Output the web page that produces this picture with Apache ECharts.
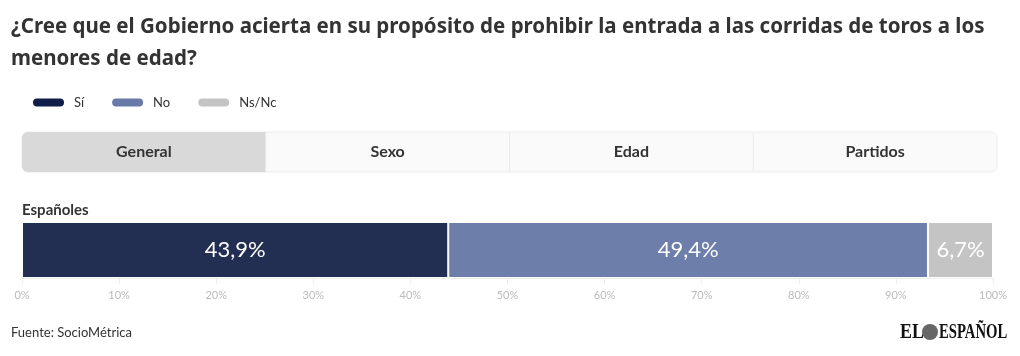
<!DOCTYPE html>
<html>
<head>
<meta charset="utf-8">
<script src="https://cdn.jsdelivr.net/npm/echarts@6/dist/echarts.min.js"></script>
<style>
  html, body { margin: 0; padding: 0; background: #fff; }
  #chart { width: 1020px; height: 356px; }
</style>
</head>
<body>
<div id="chart"></div>
<script>
// datos
const categories = ['Españoles'];
const serieNames = ['Sí', 'No', 'Ns/Nc'];
const si = [43.9];
const no = [49.4];
const nsnc = [6.7];
const tabs = ['General', 'Sexo', 'Edad', 'Partidos'];
const colors = ['#232f52', '#6e7eab', '#c4c4c4'];
const legendColors = ['#0f1d48', '#6a7aa8', '#c4c4c4'];

const FONT = 'Lato, "Noto Sans", sans-serif';
const pill = 'path://M5,0 L28,0 A5,5 0 0 1 28,10 L5,10 A5,5 0 0 1 5,0 Z';

let myChart = echarts.init(document.getElementById('chart'));

// pestañas dibujadas con graphic
const tabLeft = 22, tabTop = 132, tabW = 975, tabH = 40;
const cellW = tabW / tabs.length;
let tabGraphics = [{
  type: 'rect',
  shape: { x: tabLeft, y: tabTop, width: tabW, height: tabH, r: 6 },
  style: { fill: '#fafafa', stroke: '#ececec', lineWidth: 1 }
}];
tabs.forEach((t, i) => {
  if (i === 0) {
    tabGraphics.push({
      type: 'rect',
      shape: { x: tabLeft, y: tabTop, width: cellW, height: tabH, r: [6, 0, 0, 6] },
      style: { fill: '#d9d9d9' }
    });
  } else {
    tabGraphics.push({
      type: 'line',
      shape: { x1: tabLeft + cellW * i, y1: tabTop + 1, x2: tabLeft + cellW * i, y2: tabTop + tabH - 1 },
      style: { stroke: '#ececec', lineWidth: 1 }
    });
  }
  tabGraphics.push({
    type: 'text',
    x: tabLeft + cellW * i + cellW / 2,
    y: tabTop + tabH / 2,
    style: {
      text: t, fill: '#333', font: 'bold 16px ' + FONT,
      textAlign: 'center', textVerticalAlign: 'middle'
    }
  });
});

function serie(name, data, idx) {
  return {
    name: name,
    type: 'bar',
    stack: 'total',
    barWidth: 56,
    data: data,
    itemStyle: { color: colors[idx], borderColor: '#fff', borderWidth: 1 },
    label: {
      show: true,
      position: 'inside',
      color: '#fff',
      fontFamily: FONT,
      fontSize: 22,
      formatter: p => String(p.value).replace('.', ',') + '%'
    }
  };
}

myChart.setOption({
  animation: false,
  title: {
    text: '¿Cree que el Gobierno acierta en su propósito de prohibir la entrada a las corridas de toros a los\nmenores de edad?',
    left: 6,
    top: 6,
    textStyle: { fontFamily: '"Noto Sans", sans-serif', fontSize: 20.5, fontWeight: 'bold', color: '#333', lineHeight: 32 }
  },
  legend: {
    left: 26,
    top: 91,
    itemWidth: 33,
    itemHeight: 10,
    itemGap: 26,
    icon: pill,
    data: serieNames.map((n, i) => ({ name: n, itemStyle: { color: legendColors[i] } })),
    textStyle: { fontFamily: FONT, fontSize: 13, color: '#333', padding: [0, 0, 0, 4] },
    selectedMode: false
  },
  grid: { left: 22, right: 27, top: 222, height: 56 },
  xAxis: {
    type: 'value',
    min: 0,
    max: 100,
    interval: 10,
    axisLine: { show: true, lineStyle: { color: '#eeeeee' } },
    axisTick: { show: true, length: 6, lineStyle: { color: '#eeeeee' } },
    splitLine: { show: false },
    axisLabel: { color: '#bbbbbb', fontFamily: FONT, fontSize: 11, margin: 12, formatter: '{value}%' }
  },
  yAxis: {
    type: 'category',
    data: categories,
    show: false
  },
  graphic: tabGraphics.concat([
    {
      type: 'text', x: 22, y: 203,
      style: { text: categories[0], fill: '#333', font: 'bold 15px ' + FONT }
    },
    {
      type: 'text', x: 11, y: 326,
      style: { text: 'Fuente: SocioMétrica', fill: '#333', font: '13px ' + FONT }
    },
    {
      type: 'text', x: 900, y: 322, scaleX: 0.85,
      style: { text: 'EL', fill: '#111', font: 'bold 21px "Liberation Serif", serif' }
    },
    {
      type: 'circle', shape: { cx: 930, cy: 332, r: 8 },
      style: { fill: '#666' }
    },
    {
      type: 'text', x: 939, y: 322, scaleX: 0.7,
      style: { text: 'ESPAÑOL', fill: '#111', font: 'bold 21px "Liberation Serif", serif' }
    }
  ]),
  series: [
    serie(serieNames[0], si, 0),
    serie(serieNames[1], no, 1),
    serie(serieNames[2], nsnc, 2)
  ]
});

window.addEventListener('resize', () => {
  myChart.resize();
});
</script>
</body>
</html>
